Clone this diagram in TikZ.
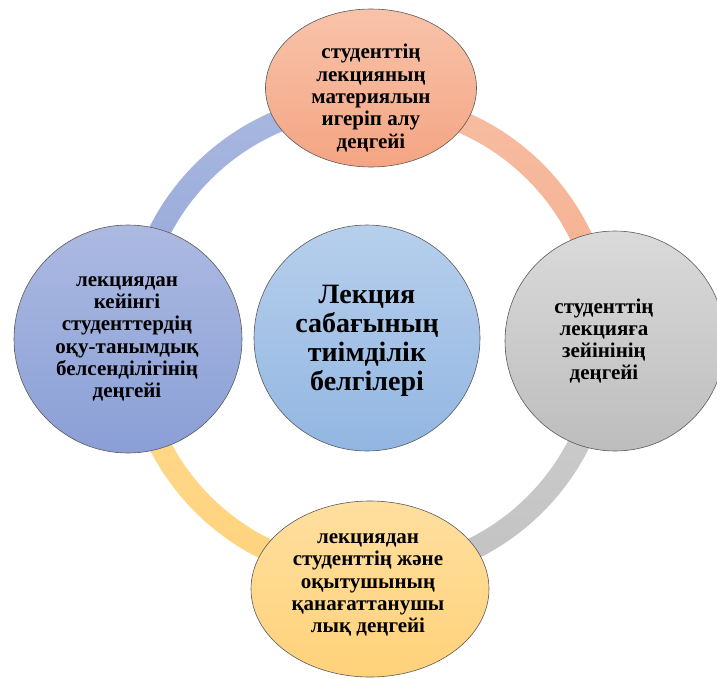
\documentclass[tikz,border=0pt]{standalone}
\usepackage{fontspec}
\setmainfont{Liberation Serif}
\usetikzlibrary{shapes.geometric}
\definecolor{salT}{HTML}{F8C3AA}
\definecolor{salB}{HTML}{F4A583}
\definecolor{gryT}{HTML}{DADADA}
\definecolor{gryB}{HTML}{BDBDBD}
\definecolor{lbT}{HTML}{ACBAE2}
\definecolor{lbB}{HTML}{8A9FD6}
\definecolor{cbT}{HTML}{B7CFEC}
\definecolor{cbB}{HTML}{92B6E2}
\definecolor{ylT}{HTML}{FFDF9F}
\definecolor{ylB}{HTML}{FFD27A}
\definecolor{rbT}{HTML}{A9B8E0}
\definecolor{rbB}{HTML}{93A6D8}
\definecolor{rsT}{HTML}{F7BDA2}
\definecolor{rsB}{HTML}{F5AE8D}
\definecolor{rgT}{HTML}{CFCFCF}
\definecolor{rgB}{HTML}{C2C2C2}
\definecolor{ryT}{HTML}{FFDA8E}
\definecolor{ryB}{HTML}{FFD37E}
\definecolor{edge}{HTML}{5A5A5A}
\tikzset{
  shapebox/.style={draw=edge, line width=0.6pt, inner sep=0pt},
  smalltxt/.style={font=\fontsize{21}{22.3}\selectfont\bfseries, align=center, inner sep=0pt},
  bigtxt/.style={font=\fontsize{28}{29}\selectfont\bfseries, align=center, inner sep=0pt}
}
\begin{document}
\begin{tikzpicture}[x=1pt,y=1pt]
\useasboundingbox (0,0) rectangle (717,-678);
\clip (0,0) rectangle (717,-678);
\coordinate (c) at (369,-338);
% ring segments
\shade[top color=rbT, bottom color=rbB] ([shift={(c)}]90:246pt) arc[start angle=90,end angle=180,radius=246pt] -- ([shift={(c)}]180:224pt) arc[start angle=180,end angle=90,radius=224pt] -- cycle;
\shade[top color=rsT, bottom color=rsB] ([shift={(c)}]0:246pt) arc[start angle=0,end angle=90,radius=246pt] -- ([shift={(c)}]90:224pt) arc[start angle=90,end angle=0,radius=224pt] -- cycle;
\shade[top color=rgT, bottom color=rgB] ([shift={(c)}]-90:246pt) arc[start angle=-90,end angle=0,radius=246pt] -- ([shift={(c)}]0:224pt) arc[start angle=0,end angle=-90,radius=224pt] -- cycle;
\shade[top color=ryT, bottom color=ryB] ([shift={(c)}]180:246pt) arc[start angle=180,end angle=270,radius=246pt] -- ([shift={(c)}]270:224pt) arc[start angle=270,end angle=180,radius=224pt] -- cycle;
% shapes
\node[shapebox, ellipse, minimum width=211pt, minimum height=158pt, top color=salT, bottom color=salB] (topS) at (371,-88) {};
\node[shapebox, circle, minimum size=220pt, top color=gryT, bottom color=gryB] (rightS) at (615,-341) {};
\node[shapebox, circle, minimum size=228pt, top color=lbT, bottom color=lbB] (leftS) at (128,-339) {};
\node[shapebox, circle, minimum size=226pt, top color=cbT, bottom color=cbB] (centS) at (367,-338) {};
\node[shapebox, ellipse, minimum width=238pt, minimum height=176pt, top color=ylT, bottom color=ylB] (botS) at (370,-589) {};
% texts
\node[smalltxt] (topT) at (371,-98) {студенттің\\лекцияның\\материялын\\игеріп алу\\деңгейі};
\node[smalltxt] (rightT) at (604,-341) {студенттің\\лекцияға\\зейінінің\\деңгейі};
\node[smalltxt] (leftT) at (127,-339) {лекциядан\\кейінгі\\студенттердің\\оқу-танымдық\\белсенділігінің\\деңгейі};
\node[bigtxt] (centT) at (367,-341) {Лекция\\сабағының\\тиімділік\\белгілері};
\node[smalltxt] (botT) at (368,-585) {лекциядан\\студенттің және\\оқытушының\\қанағаттанушы\\лық деңгейі};
\end{tikzpicture}
\end{document}
